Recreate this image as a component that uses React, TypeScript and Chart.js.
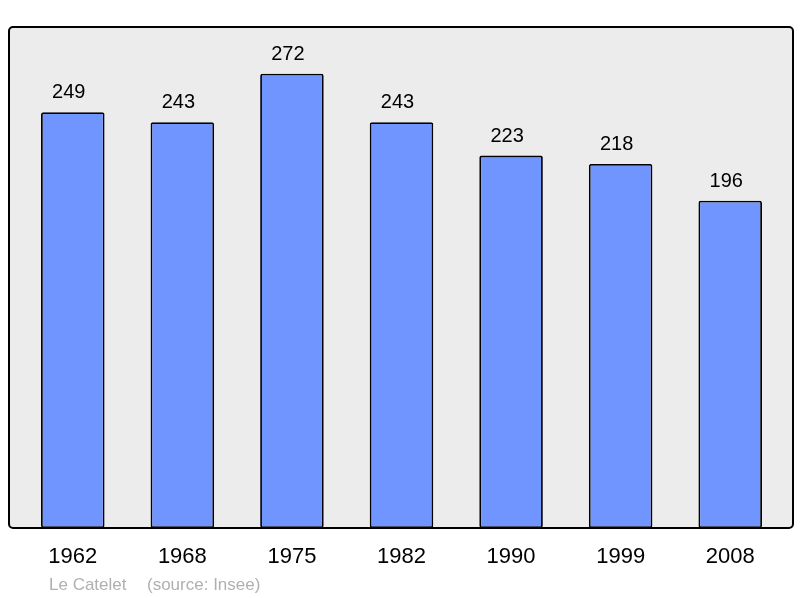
import React, { useEffect, useRef } from "react";
import { Chart, registerables } from "chart.js";

Chart.register(...registerables);

const years: string[] = ["1962", "1968", "1975", "1982", "1990", "1999", "2008"];
const population: number[] = [249, 243, 272, 243, 223, 218, 196];
const yMin = 0;
const yMax = 300;
const footerPlace = "Le Catelet";
const footerSource = "(source: Insee)";

const FONT = "'Liberation Sans', Arial, sans-serif";

const framePlugin = {
  id: "frameAndLabels",
  beforeDatasetsDraw(chart: any) {
    const { ctx, chartArea } = chart;
    const l = chartArea.left - 9;
    const r = chartArea.right + 8;
    ctx.save();
    ctx.fillStyle = "#ececec";
    ctx.beginPath();
    ctx.roundRect(l, chartArea.top, r - l, chartArea.bottom - chartArea.top, 4);
    ctx.fill();
    ctx.restore();
  },
  afterDatasetsDraw(chart: any) {
    const { ctx, chartArea } = chart;
    const l = chartArea.left - 9;
    const r = chartArea.right + 8;
    ctx.save();
    ctx.strokeStyle = "#000";
    ctx.lineWidth = 2;
    ctx.beginPath();
    ctx.roundRect(l, chartArea.top, r - l, chartArea.bottom - chartArea.top, 4);
    ctx.stroke();

    const meta = chart.getDatasetMeta(0);
    ctx.fillStyle = "#000";
    ctx.font = `20px ${FONT}`;
    ctx.textAlign = "center";
    ctx.textBaseline = "alphabetic";
    meta.data.forEach((bar: any, i: number) => {
      ctx.fillText(String(population[i]), bar.x - 4, bar.y - 14);
    });

    ctx.fillStyle = "#b0b0b0";
    ctx.font = `17px ${FONT}`;
    ctx.textAlign = "left";
    ctx.fillText(footerPlace, 49, 590);
    ctx.fillText(footerSource, 147, 590);
    ctx.restore();
  },
};

export default function App() {
  const ref = useRef<HTMLCanvasElement | null>(null);
  useEffect(() => {
    document.body.style.margin = "0";
    const canvas = ref.current;
    if (!canvas) return;
    const chart = new Chart(canvas, {
      type: "bar",
      data: {
        labels: years,
        datasets: [
          {
            data: population,
            backgroundColor: "#7095ff",
            borderColor: "#000",
            borderWidth: 1.8,
            borderRadius: 2,
            borderSkipped: false,
            barPercentage: 0.58,
            categoryPercentage: 1,
          },
        ],
      },
      options: {
        responsive: false,
        animation: false,
        devicePixelRatio: 1,
        layout: { padding: { left: 18, right: 15, top: 27, bottom: 11.6 } },
        plugins: { legend: { display: false }, tooltip: { enabled: false } },
        scales: {
          y: { display: false, min: yMin, max: yMax },
          x: {
            grid: { display: false, drawTicks: false },
            border: { display: false },
            ticks: {
              color: "#000",
              padding: 16,
              font: { size: 22, family: FONT },
            },
          },
        },
      },
      plugins: [framePlugin],
    });
    return () => chart.destroy();
  }, []);
  return <canvas ref={ref} width={800} height={598} style={{ display: "block" }} />;
}
